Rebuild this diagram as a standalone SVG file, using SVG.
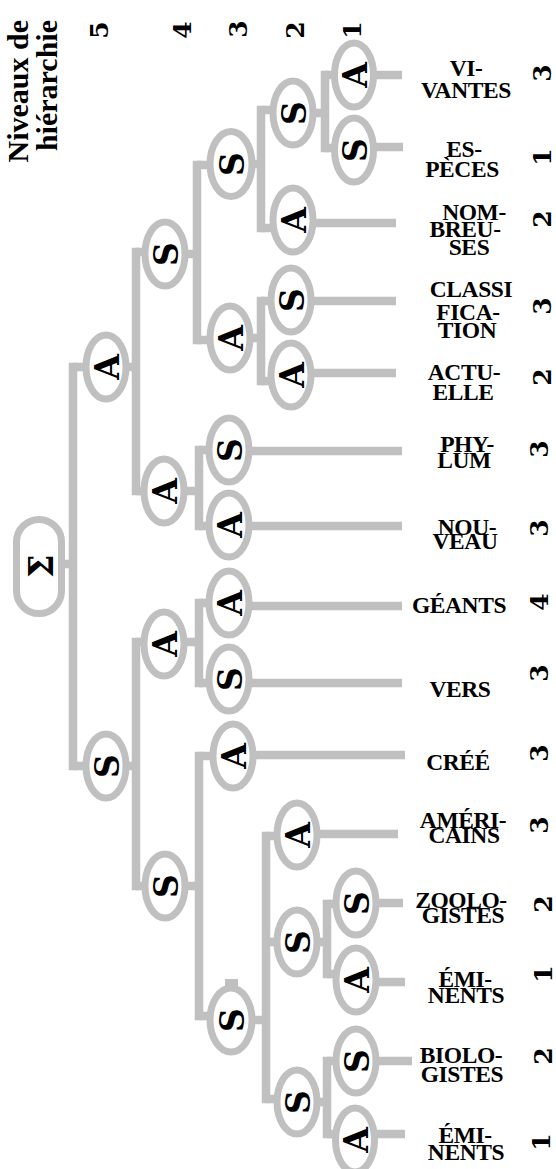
<svg xmlns="http://www.w3.org/2000/svg" width="556" height="1169" viewBox="0 0 556 1169">
  <style>
    .ln { fill: none; stroke: #c0c0c0; stroke-width: 8.5; }
    .bar { stroke-linecap: square; }
    .nd { fill: #ffffff; stroke: #c0c0c0; stroke-width: 7; }
    .gl { font-family: "DejaVu Serif", serif; font-weight: bold; font-size: 33px; text-anchor: middle; fill: #000; }
    .num { font-family: "DejaVu Serif", serif; font-weight: bold; font-size: 25px; text-anchor: middle; fill: #000; }
    .lbl { font-family: "Liberation Serif", "Times New Roman", serif; font-weight: bold; font-size: 23.5px; letter-spacing: -0.4px; text-anchor: middle; fill: #000; }
    .hd { font-family: "Liberation Serif", "Times New Roman", serif; font-weight: bold; font-size: 30px; text-anchor: end; fill: #000; }
  </style>

  <!-- column header: hierarchy levels -->
  <g id="header">
    <text class="hd" transform="translate(28,20) rotate(-90)">Niveaux de</text>
    <text class="hd" transform="translate(57,20) rotate(-90)">hiérarchie</text>
    <text class="num" transform="translate(99,30) rotate(-90)" y="9">5</text>
    <text class="num" transform="translate(182,30) rotate(-90)" y="9">4</text>
    <text class="num" transform="translate(238,29) rotate(-90)" y="9">3</text>
    <text class="num" transform="translate(295,30) rotate(-90)" y="9">2</text>
    <text class="num" transform="translate(352,30) rotate(-90)" y="9">1</text>
  </g>

  <!-- tree connectors -->
  <g id="connectors">
    <!-- vertical bars -->
    <path class="ln bar" d="M73 367V766 M136 252V491 M136 642V886 M197 165V340 M199 450V526 M199 603V683 M199 756V1016 M261 110V228 M261 301V381 M325 75V148 M266 836V1099 M327 904V974 M327 1061V1134"/>
    <!-- parent to bar -->
    <path class="ln" d="M39 564H73 M106 367H136 M106 766H136 M165 254H197 M164 491H199 M164 642H199 M165 886H199 M231 164H261 M230 338H261 M293 113H325 M231 1020H266 M297 942H327 M297 1102H327"/>
    <!-- bar to child -->
    <path class="ln" d="M73 367H106 M73 766H106 M136 252H165 M136 491H164 M136 642H164 M136 886H165 M197 165H231 M197 340H230 M199 450H229 M199 526H229 M199 603H229 M199 683H229 M199 756H233 M199 1016H231 M261 110H293 M261 228H293 M261 301H291 M261 381H291 M325 75H354 M325 148H354 M266 836H297 M266 942H297 M266 1099H297 M327 904H356 M327 974H356 M327 1061H356 M327 1134H355"/>
    <!-- leaves to words -->
    <path class="ln" d="M354 75H402 M354 147H403 M293 223H396 M291 301H396 M291 373H396 M229 451H402 M229 526H402 M229 606H402 M229 683H402 M233 755H405 M297 834H398 M356 903H403 M356 982H405 M356 1061H412 M355 1134H405"/>
    <rect x="225" y="979" width="13" height="8" fill="#c0c0c0"/>
  </g>

  <!-- root -->
  <g id="root">
    <rect class="nd" x="16.5" y="519.5" width="45" height="94" rx="22.5" ry="22.5"/>
    <text class="gl" transform="translate(40,566) rotate(-90)" y="13">Σ</text>
  </g>

  <!-- level 5 -->
  <g id="n5a"><ellipse class="nd" cx="106" cy="367" rx="20" ry="32"/><text class="gl" transform="translate(106,367) rotate(-90)" y="13">A</text></g>
  <g id="n5b"><ellipse class="nd" cx="106" cy="766" rx="20" ry="32"/><text class="gl" transform="translate(106,766) rotate(-90)" y="13">S</text></g>

  <!-- level 4 -->
  <g id="n4a"><ellipse class="nd" cx="165" cy="254" rx="20" ry="32"/><text class="gl" transform="translate(165,254) rotate(-90)" y="13">S</text></g>
  <g id="n4b"><ellipse class="nd" cx="164" cy="491" rx="20" ry="32"/><text class="gl" transform="translate(164,491) rotate(-90)" y="13">A</text></g>
  <g id="n4c"><ellipse class="nd" cx="164" cy="644" rx="20" ry="32"/><text class="gl" transform="translate(164,644) rotate(-90)" y="13">A</text></g>
  <g id="n4d"><ellipse class="nd" cx="165" cy="886" rx="20" ry="32"/><text class="gl" transform="translate(165,886) rotate(-90)" y="13">S</text></g>

  <!-- level 3 -->
  <g id="n3a"><ellipse class="nd" cx="231" cy="164" rx="21" ry="32.5"/><text class="gl" transform="translate(231,164) rotate(-90)" y="13">S</text></g>
  <g id="n3b"><ellipse class="nd" cx="230" cy="338" rx="20" ry="32"/><text class="gl" transform="translate(230,338) rotate(-90)" y="13">A</text></g>
  <g id="n3c"><ellipse class="nd" cx="229" cy="450" rx="20" ry="32"/><text class="gl" transform="translate(229,450) rotate(-90)" y="13">S</text></g>
  <g id="n3d"><ellipse class="nd" cx="229" cy="525" rx="20" ry="32"/><text class="gl" transform="translate(229,525) rotate(-90)" y="13">A</text></g>
  <g id="n3e"><ellipse class="nd" cx="229" cy="603" rx="20" ry="32"/><text class="gl" transform="translate(229,603) rotate(-90)" y="13">A</text></g>
  <g id="n3f"><ellipse class="nd" cx="229" cy="679" rx="20" ry="32"/><text class="gl" transform="translate(229,679) rotate(-90)" y="13">S</text></g>
  <g id="n3g"><ellipse class="nd" cx="233" cy="756" rx="20" ry="32"/><text class="gl" transform="translate(233,756) rotate(-90)" y="13">A</text></g>
  <g id="n3h"><ellipse class="nd" cx="231" cy="1020" rx="21" ry="32"/><text class="gl" transform="translate(231,1020) rotate(-90)" y="13">S</text></g>

  <!-- level 2 -->
  <g id="n2a"><ellipse class="nd" cx="293" cy="113" rx="20" ry="32"/><text class="gl" transform="translate(293,113) rotate(-90)" y="13">S</text></g>
  <g id="n2b"><ellipse class="nd" cx="293" cy="220" rx="20" ry="32"/><text class="gl" transform="translate(293,220) rotate(-90)" y="13">A</text></g>
  <g id="n2c"><ellipse class="nd" cx="291" cy="300" rx="20" ry="32"/><text class="gl" transform="translate(291,300) rotate(-90)" y="13">S</text></g>
  <g id="n2d"><ellipse class="nd" cx="291" cy="375" rx="20" ry="32"/><text class="gl" transform="translate(291,375) rotate(-90)" y="13">A</text></g>
  <g id="n2e"><ellipse class="nd" cx="297" cy="835" rx="20" ry="32"/><text class="gl" transform="translate(297,835) rotate(-90)" y="13">A</text></g>
  <g id="n2f"><ellipse class="nd" cx="297" cy="942" rx="20" ry="32"/><text class="gl" transform="translate(297,942) rotate(-90)" y="13">S</text></g>
  <g id="n2g"><ellipse class="nd" cx="297" cy="1102" rx="20" ry="32"/><text class="gl" transform="translate(297,1102) rotate(-90)" y="13">S</text></g>

  <!-- level 1 -->
  <g id="n1a"><ellipse class="nd" cx="354" cy="75" rx="19.5" ry="32"/><text class="gl" transform="translate(354,75) rotate(-90)" y="13">A</text></g>
  <g id="n1b"><ellipse class="nd" cx="354" cy="150" rx="19.5" ry="32"/><text class="gl" transform="translate(354,150) rotate(-90)" y="13">S</text></g>
  <g id="n1c"><ellipse class="nd" cx="356" cy="903" rx="20" ry="32"/><text class="gl" transform="translate(356,903) rotate(-90)" y="13">S</text></g>
  <g id="n1d"><ellipse class="nd" cx="356" cy="980" rx="20" ry="32"/><text class="gl" transform="translate(356,980) rotate(-90)" y="13">A</text></g>
  <g id="n1e"><ellipse class="nd" cx="356" cy="1061" rx="20" ry="32"/><text class="gl" transform="translate(356,1061) rotate(-90)" y="13">S</text></g>
  <g id="n1f"><ellipse class="nd" cx="355" cy="1140" rx="19.5" ry="32"/><text class="gl" transform="translate(355,1140) rotate(-90)" y="13">A</text></g>

  <!-- words at the leaves -->
  <g id="words">
    <text class="lbl"><tspan x="466" y="76">VI-</tspan><tspan x="466" y="98">VANTES</tspan></text>
    <text class="lbl"><tspan x="464" y="157">ES-</tspan><tspan x="462" y="177">PÈCES</tspan></text>
    <text class="lbl"><tspan x="474" y="220">NOM-</tspan><tspan x="465" y="237">BREU-</tspan><tspan x="469" y="255">SES</tspan></text>
    <text class="lbl"><tspan x="471" y="297">CLASSI</tspan><tspan x="468" y="320">FICA-</tspan><tspan x="467" y="338">TION</tspan></text>
    <text class="lbl"><tspan x="464" y="380">ACTU-</tspan><tspan x="463" y="400">ELLE</tspan></text>
    <text class="lbl"><tspan x="467" y="452">PHY-</tspan><tspan x="464" y="468">LUM</tspan></text>
    <text class="lbl"><tspan x="467" y="535">NOU-</tspan><tspan x="465" y="549">VEAU</tspan></text>
    <text class="lbl" x="459" y="613">GÉANTS</text>
    <text class="lbl" x="460" y="697">VERS</text>
    <text class="lbl" x="458" y="770">CRÉÉ</text>
    <text class="lbl"><tspan x="463" y="828">AMÉRI-</tspan><tspan x="464" y="843">CAINS</tspan></text>
    <text class="lbl"><tspan x="461" y="908">ZOOLO-</tspan><tspan x="463" y="923">GISTES</tspan></text>
    <text class="lbl"><tspan x="465" y="987">ÉMI-</tspan><tspan x="466" y="1003">NENTS</tspan></text>
    <text class="lbl"><tspan x="461" y="1063">BIOLO-</tspan><tspan x="462" y="1082">GISTES</tspan></text>
    <text class="lbl"><tspan x="465" y="1143">ÉMI-</tspan><tspan x="466" y="1160">NENTS</tspan></text>
  </g>

  <!-- level of each word -->
  <g id="levels">
    <text class="num" transform="translate(542,73) rotate(-90)" y="9">3</text>
    <text class="num" transform="translate(542,157) rotate(-90)" y="9">1</text>
    <text class="num" transform="translate(542,219) rotate(-90)" y="9">2</text>
    <text class="num" transform="translate(542,306) rotate(-90)" y="9">3</text>
    <text class="num" transform="translate(542,377) rotate(-90)" y="9">2</text>
    <text class="num" transform="translate(539,449) rotate(-90)" y="9">3</text>
    <text class="num" transform="translate(539,528) rotate(-90)" y="9">3</text>
    <text class="num" transform="translate(539,602) rotate(-90)" y="9">4</text>
    <text class="num" transform="translate(539,673) rotate(-90)" y="9">3</text>
    <text class="num" transform="translate(539,753) rotate(-90)" y="9">3</text>
    <text class="num" transform="translate(539,825) rotate(-90)" y="9">3</text>
    <text class="num" transform="translate(543,904) rotate(-90)" y="9">2</text>
    <text class="num" transform="translate(543,974) rotate(-90)" y="9">1</text>
    <text class="num" transform="translate(543,1056) rotate(-90)" y="9">2</text>
    <text class="num" transform="translate(541,1142) rotate(-90)" y="9">1</text>
  </g>
</svg>
